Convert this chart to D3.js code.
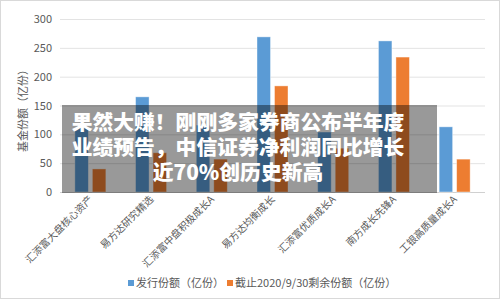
<!DOCTYPE html>
<html><head><meta charset="utf-8">
<script src="https://cdn.jsdelivr.net/npm/d3@7"></script>
<style>body{margin:0;background:#fff}svg{display:block}</style>
</head><body>
<svg id="c" width="500" height="299"></svg>
<script>
const categories = ["汇添富大盘核心资产","易方达研究精选","汇添富中盘积极成长A","易方达均衡成长","汇添富优质成长A","南方成长先锋A","工银高质量成长A"];
const issued = [111, 165, 116, 269, 104, 262, 113];
const remaining = [40, 68, 57, 184, 76, 234, 57];
const seriesNames = ["发行份额（亿份）","截止2020/9/30剩余份额（亿份）"];
const yTicks = [0, 50, 100, 150, 200, 250, 300];
const titleLines = ["果然大赚！刚刚多家券商公布半年度","业绩预告，中信证券净利润同比增长","近70%创历史新高"];
const colors = ["#5B9BD5", "#ED7D31"];

const svg = d3.select("#c");
const font = "'Noto Sans CJK SC', 'Noto Sans', sans-serif";
svg.append("rect").attr("x",0.5).attr("y",0.5).attr("width",499).attr("height",298)
  .attr("fill","#fff").attr("stroke","#d9d9d9");

const m = {l:60, r:15, t:19, b:107};
const x = d3.scaleBand().domain(categories).range([m.l, 500-m.r]);
const y = d3.scaleLinear().domain([0,300]).range([192, 19]);

const g = svg.append("g");
g.selectAll("line.grid").data(yTicks).join("line")
  .attr("x1", m.l).attr("x2", 500-m.r)
  .attr("y1", d=>y(d)+0.5).attr("y2", d=>y(d)+0.5)
  .attr("stroke", d=> d===0 ? "#d0d0d0" : "#e3e3e3").attr("stroke-width",1);

const yAxis = d3.axisLeft(y).tickValues(yTicks).tickSize(0).tickPadding(0);
const ya = svg.append("g").attr("transform","translate(52,0)").call(yAxis);
ya.select(".domain").remove();
ya.selectAll("text").attr("font-family",font).attr("font-size",11).attr("fill","#595959");

const bw = 13.5, gap = 4;
const series = [issued, remaining];
series.forEach((vals, si) => {
  g.selectAll("rect.s"+si).data(vals).join("rect")
    .attr("x", (d,i)=> x(categories[i]) + x.bandwidth()/2 - bw - gap/2 + si*(bw+gap))
    .attr("y", d=>y(d)).attr("width", bw).attr("height", d=>y(0)-y(d))
    .attr("fill", colors[si]).attr("stroke","#fff").attr("stroke-opacity",0.5).attr("stroke-width",0.8);
});

// x labels
const xa = svg.append("g");
categories.forEach((c,i)=>{
  xa.append("text").attr("transform",`translate(${x(c)+x.bandwidth()/2+3},${200}) rotate(-45)`)
    .attr("text-anchor","end").attr("font-family",font).attr("font-size",10).attr("fill","#595959")
    .text(c);
});

// y title
svg.append("text").attr("transform","translate(27,108) rotate(-90)")
  .attr("text-anchor","middle").attr("font-family",font).attr("font-size",11).attr("fill","#595959")
  .text("基金份额（亿份）");

// legend
const leg = [{x:133, t:seriesNames[0], c:colors[0]},{x:232, t:seriesNames[1], c:colors[1]}];
leg.forEach(l=>{
  svg.append("rect").attr("x",l.x-5).attr("y",280).attr("width",6).attr("height",6).attr("fill",l.c);
  svg.append("text").attr("x",l.x+3).attr("y",287).attr("font-family",font).attr("font-size",11)
    .attr("fill","#595959").text(l.t);
});

// overlay
svg.append("rect").attr("x",62).attr("y",105).attr("width",375).attr("height",88)
  .attr("fill","rgba(0,0,0,0.4)");
const tt = svg.append("text").attr("text-anchor","middle")
  .attr("font-family",font).attr("font-weight",900).attr("font-size",20.8).attr("fill","#fff");
titleLines.forEach((t,i)=>{
  tt.append("tspan").attr("x",238).attr("y",130+i*25).text(t);
});
</script>
</body></html>
